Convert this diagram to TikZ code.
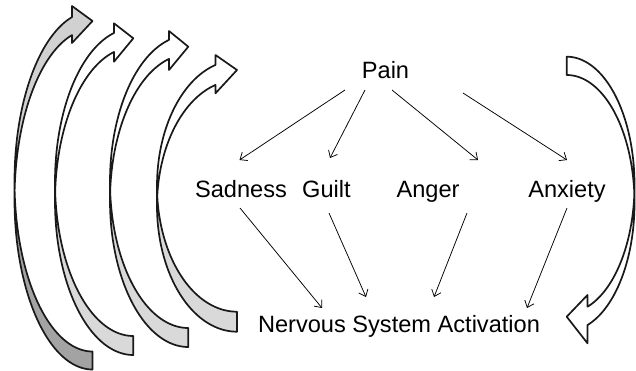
\documentclass[tikz,border=0pt]{standalone}
\usepackage{fontspec}
\setmainfont{Liberation Sans}
\usetikzlibrary{arrows.meta}

% curved band arrow: #1 r (tail/tip x), #2 R (x radius), #3 Ry, #4 centre y of upper ellipse,
% #5 band thickness t, #6 head base x, #7 outer barb y, #8 tip y, #9 inner barb y
\newcommand\CArrow[9]{%
  \pgfmathsetmacro\cLow{(#4)+(#5)}%
  \pgfmathsetmacro\thh{360-acos(((#6)-(#1))/(#2))}%
  \pgfmathsetmacro\dd{asin((#5)/(2*(#3)))}%
  \pgfmathsetmacro\xl{(#1)-(#2)}%
  \pgfmathsetmacro\cra{180-\dd}%
  \pgfmathsetmacro\cla{180+\dd}%
  \pgfmathsetmacro\tailU{(#4)+(#3)}%
  \fill[\cfront] plot[domain=180:\thh,samples=70,variable=\a] ({(#1)+(#2)*cos(\a)},{\cLow+(#3)*sin(\a)})
     -- (#6,#9) -- (#1,#8) -- (#6,#7)
     -- plot[domain=180:\thh,samples=70,variable=\a] ({(#1)+(#2)*cos(180+\thh-\a)},{(#4)+(#3)*sin(180+\thh-\a)}) -- cycle;
  \fill[\cback] plot[domain=90:\cra,samples=70,variable=\a] ({(#1)+(#2)*cos(\a)},{(#4)+(#3)*sin(\a)})
     -- plot[domain=90:\cla,samples=70,variable=\a] ({(#1)+(#2)*cos(90+\cla-\a)},{\cLow+(#3)*sin(90+\cla-\a)}) -- cycle;
  \draw[arrline] plot[domain=180:\thh,samples=70,variable=\a] ({(#1)+(#2)*cos(\a)},{\cLow+(#3)*sin(\a)})
     -- (#6,#9) -- (#1,#8) -- (#6,#7)
     -- plot[domain=180:\thh,samples=70,variable=\a] ({(#1)+(#2)*cos(180+\thh-\a)},{(#4)+(#3)*sin(180+\thh-\a)})
     -- (\xl,\cLow)
     -- plot[domain=90:180,samples=70,variable=\a] ({(#1)+(#2)*cos(270-\a)},{\cLow+(#3)*sin(270-\a)})
     -- (#1,\tailU)
     -- plot[domain=90:\cra,samples=70,variable=\a] ({(#1)+(#2)*cos(\a)},{(#4)+(#3)*sin(\a)});
}

\tikzset{
  arrline/.style={draw=black!90, line width=1.7bp, line join=round},
  lbl/.style={font=\fontsize{23.6bp}{28bp}\selectfont, inner sep=0pt, anchor=base},
  conn/.style={line width=0.75bp, -{Straight Barb[length=6bp,width=10bp]}},
}

\begin{document}
\begin{tikzpicture}[x=1bp,y=-1bp]
\fill[white] (0,0) rectangle (636,370);
\useasboundingbox (0,0) rectangle (636,370);

% left curved arrows
\def\cfront{black!18}\def\cback{black!36}
\CArrow{92.5}{78}{170.2}{181.3}{18}{72}{6}{21}{43}
\def\cfront{white}\def\cback{black!15}
\CArrow{133.3}{78.3}{153.9}{182.1}{19}{114}{23.3}{38.3}{61.7}
\CArrow{188.3}{78.3}{146.3}{181.7}{19}{169}{31}{46.7}{70}
\CArrow{237}{80}{125.7}{186}{20}{215.5}{55}{70}{93.3}

% right curved arrow (rotated half turn)
\begin{scope}[xscale=-1,yscale=-1]
\def\cfront{white}\def\cback{white}
\CArrow{-566.7}{67.8}{128.1}{-203.1}{18.3}{-587.5}{-343.3}{-316.7}{-295}
\end{scope}

% labels
\node[lbl] (pain) at (385.5,78.5) {Pain};
\node[lbl] (sad) at (241,197) {Sadness};
\node[lbl] (guilt) at (326.5,197) {Guilt};
\node[lbl] (anger) at (428,197) {Anger};
\node[lbl] (anx) at (567,197) {Anxiety};
\node[lbl] (nsa) at (399,332) {Nervous System Activation};

% connector ends
\coordinate (pS) at (345,90);   \coordinate (sT) at (239.5,160);
\coordinate (pG) at (365,90);   \coordinate (gT) at (330,158);
\coordinate (pA) at (392,90);   \coordinate (aT) at (478,160);
\coordinate (pX) at (463,93);   \coordinate (xT) at (567,160);
\coordinate (sB) at (240,208);  \coordinate (nS) at (322,308);
\coordinate (gB) at (329,213);  \coordinate (nG) at (366,297);
\coordinate (aB) at (467,213);  \coordinate (nA) at (434,297);
\coordinate (xB) at (567,208);  \coordinate (nX) at (527,308);

\draw[conn] (pS) -- (sT);
\draw[conn] (pG) -- (gT);
\draw[conn] (pA) -- (aT);
\draw[conn] (pX) -- (xT);
\draw[conn] (sB) -- (nS);
\draw[conn] (gB) -- (nG);
\draw[conn] (aB) -- (nA);
\draw[conn] (xB) -- (nX);
\end{tikzpicture}
\end{document}
